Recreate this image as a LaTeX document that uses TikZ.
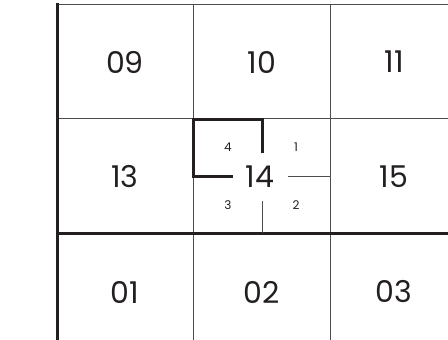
\documentclass[tikz,border=0pt]{standalone}
\usepackage{fontspec}
\setmainfont{Poppins}
\usetikzlibrary{positioning, calc}
\definecolor{inkline}{HTML}{231F20}
\definecolor{gridgray}{HTML}{4D4D4F}
\tikzset{
    gridline/.style={line width=1pt, gridgray},
    heavyline/.style={line width=3pt, inkline},
    cellnum/.style={inkline, inner sep=0pt, font=\fontsize{30}{33}\selectfont},
    quadnum/.style={inkline, inner sep=0pt, font=\fontsize{12}{14}\selectfont}
}

\begin{document}
\begin{tikzpicture}[x=1pt, y=-1pt, line join=miter]
    \useasboundingbox (0,0) rectangle (448,340);
    % 网格
    \draw[gridline] (58,4) -- (448,4);
    \draw[gridline] (58,118) -- (448,118);
    \draw[gridline] (193,4) -- (193,340);
    \draw[gridline] (330,4) -- (330,340);
    \draw[heavyline] (56,233) -- (448,233);
    \draw[heavyline] (57.5,3) -- (57.5,340);

    % 编号
    \node[cellnum] (c09) at (125,62) {09};
    \node[cellnum] (c10) at (262,62) {10};
    \node[cellnum] (c11) at (394,62) {11};
    \node[cellnum] (c13) at (125,177) {13};
    \node[cellnum] (c14) at (260,177) {14};
    \node[cellnum] (c15) at (394,177) {15};
    \node[cellnum] (c01) at (125,292) {01};
    \node[cellnum] (c02) at (262,292) {02};
    \node[cellnum] (c03) at (394,292) {03};

    % 14 的四个象限
    \node[quadnum] (q4) at (228,147) {4};
    \node[quadnum] (q1) at (296,147) {1};
    \node[quadnum] (q3) at (228,205) {3};
    \node[quadnum] (q2) at (296,205) {2};

    \coordinate (Ltop) at (262,153);
    \coordinate (Lbot) at (233,176);
    \draw[heavyline] (Ltop) -- (262,119) -- (193,119) -- (193,176) -- (Lbot);
    \coordinate (Rin) at (288,176);
    \coordinate (Rout) at (330,176);
    \draw[gridline] (Rin) -- (Rout);
    \coordinate (Din) at (262,201);
    \coordinate (Dout) at (262,233);
    \draw[gridline] (Din) -- (Dout);
\end{tikzpicture}
\end{document}
